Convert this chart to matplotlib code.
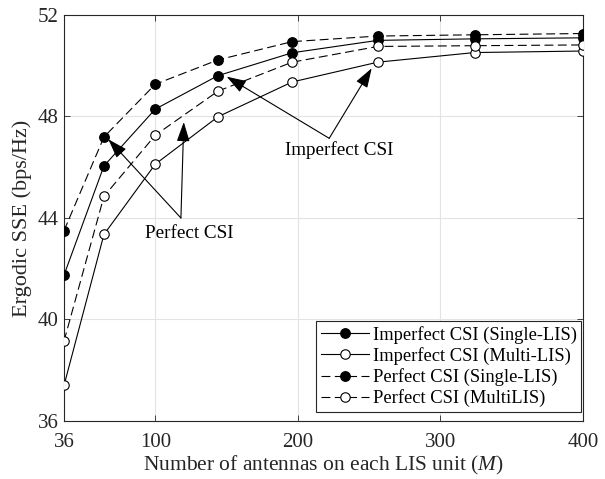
import matplotlib
matplotlib.use("Agg")
import matplotlib.pyplot as plt

plt.rcParams['font.family'] = ['Liberation Serif', 'DejaVu Serif']
plt.rcParams['mathtext.fontset'] = 'custom'
plt.rcParams['mathtext.it'] = 'Liberation Serif:italic'
plt.rcParams['mathtext.rm'] = 'Liberation Serif'

M = [36, 64, 100, 144, 196, 256, 324, 400]
imperfect_single = [41.75, 46.05, 48.29, 49.61, 50.51, 51.00, 51.06, 51.10]
imperfect_multi = [37.40, 43.35, 46.12, 47.99, 49.36, 50.14, 50.52, 50.58]
perfect_single = [43.50, 47.19, 49.27, 50.23, 50.95, 51.17, 51.22, 51.27]
perfect_multi = [39.15, 44.85, 47.26, 49.00, 50.14, 50.76, 50.79, 50.82]

labels = ['Imperfect CSI (Single-LIS)', 'Imperfect CSI (Multi-LIS)',
          'Perfect CSI (Single-LIS)', 'Perfect CSI (MultiLIS)']
xticks = [36, 100, 200, 300, 400]
yticks = [36, 40, 44, 48, 52]

fig = plt.figure(figsize=(6.05, 4.79), dpi=100)
ax = fig.add_axes([0.1058, 0.1211, 0.8578, 0.8476])

dk = '#262626'
lw = 0.8
ms = 6.8
dash = (8, 4)
ax.plot(M, imperfect_single, '-', color='k', lw=lw, marker='o', ms=ms,
        mfc='k', mec='k', label=labels[0], zorder=3)
ax.plot(M, imperfect_multi, '-', color='k', lw=lw, marker='o', ms=ms,
        mfc='white', mec='k', mew=0.8, label=labels[1], zorder=3)
ax.plot(M, perfect_single, color='k', lw=lw, marker='o', ms=ms, dashes=dash,
        mfc='k', mec='k', label=labels[2], zorder=3)
ax.plot(M, perfect_multi, color='k', lw=lw, marker='o', ms=ms, dashes=dash,
        mfc='white', mec='k', mew=0.8, label=labels[3], zorder=3)

ax.set_xlim(36, 400)
ax.set_ylim(36, 52)
ax.set_xticks(xticks)
ax.set_yticks(yticks)
ax.grid(True, color='#e3e3e3', lw=0.8)
ax.set_axisbelow(True)
ax.tick_params(direction='in', top=True, right=True, length=4, width=0.6,
               labelsize=15, colors=dk)
ax.tick_params(axis='x', pad=9)
ax.tick_params(axis='y', pad=4)
for s in ax.spines.values():
    s.set_color(dk)
    s.set_linewidth(0.8)

ax.set_xlabel('Number of antennas on each LIS unit ($M$)', fontsize=15.5, color=dk, labelpad=1)
ax.set_ylabel('Ergodic SSE (bps/Hz)', fontsize=16, color=dk, labelpad=4)

aprops = dict(arrowstyle='-|>,head_length=0.75,head_width=0.25', color='k',
              lw=0.8, mutation_scale=16, shrinkA=0, shrinkB=0)
# Perfect CSI annotations
ax.annotate('', xy=(67.1, 47.10), xytext=(118, 44.0), arrowprops=aprops)
ax.annotate('', xy=(120, 47.78), xytext=(118, 44.0), arrowprops=aprops)
ax.text(123.7, 43.37, 'Perfect CSI', fontsize=13.8, ha='center', va='center', color='k')
# Imperfect CSI annotations
ax.annotate('', xy=(150.1, 49.57), xytext=(222, 47.14), arrowprops=aprops)
ax.annotate('', xy=(251.8, 49.90), xytext=(222, 47.14), arrowprops=aprops)
ax.text(228.9, 46.68, 'Imperfect CSI', fontsize=13.8, ha='center', va='center', color='k')

leg = ax.legend(loc='lower right', bbox_to_anchor=(0.997, 0.022), fontsize=13.3,
                frameon=True, fancybox=False, edgecolor=dk, framealpha=1,
                handlelength=2.6, handletextpad=0.2, labelspacing=0.18,
                borderpad=0.25, borderaxespad=0)
leg.get_frame().set_linewidth(0.8)

fig.savefig('out.png', dpi=100)
